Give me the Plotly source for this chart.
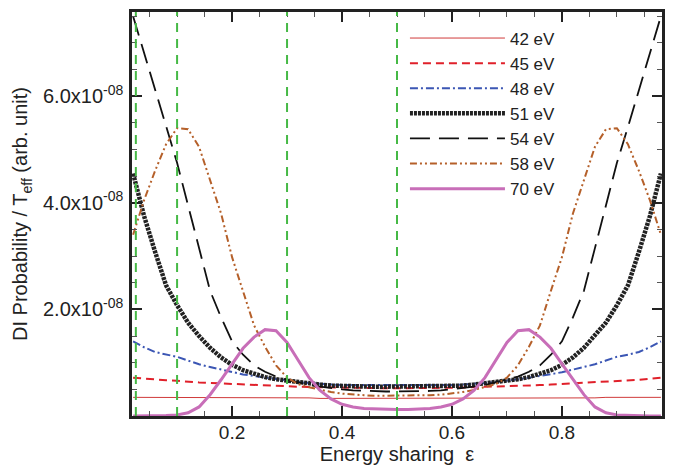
import plotly.graph_objects as go

# energy sharing grid
eps = [0.02, 0.04, 0.06, 0.08, 0.10, 0.12, 0.14, 0.16, 0.18, 0.20, 0.22, 0.24, 0.26,
       0.28, 0.30, 0.32, 0.34, 0.36, 0.38, 0.40, 0.42, 0.44, 0.46, 0.48, 0.50,
       0.52, 0.54, 0.56, 0.58, 0.60, 0.62, 0.64, 0.66, 0.68, 0.70, 0.72, 0.74,
       0.76, 0.78, 0.80, 0.82, 0.84, 0.86, 0.88, 0.90, 0.92, 0.94, 0.96, 0.98]

# DI probability / T_eff, in units of 1e-8
p42 = [0.35, 0.35, 0.35, 0.35, 0.35, 0.35, 0.35, 0.34, 0.34, 0.34, 0.34, 0.34, 0.34,
       0.34, 0.34, 0.34, 0.34, 0.33, 0.33, 0.33, 0.33, 0.33, 0.33, 0.33, 0.33,
       0.33, 0.33, 0.33, 0.33, 0.33, 0.33, 0.33, 0.33, 0.34, 0.34, 0.34, 0.34,
       0.34, 0.34, 0.34, 0.34, 0.34, 0.34, 0.35, 0.35, 0.35, 0.35, 0.35, 0.35]
p45 = [0.72, 0.70, 0.68, 0.67, 0.66, 0.64, 0.63, 0.62, 0.61, 0.60, 0.59, 0.58, 0.57,
       0.565, 0.56, 0.55, 0.545, 0.54, 0.535, 0.53, 0.53, 0.525, 0.525, 0.52, 0.52,
       0.52, 0.525, 0.525, 0.53, 0.53, 0.535, 0.54, 0.545, 0.55, 0.56, 0.565, 0.57,
       0.58, 0.59, 0.60, 0.61, 0.62, 0.63, 0.64, 0.66, 0.67, 0.68, 0.70, 0.72]
p48 = [1.40, 1.29, 1.20, 1.15, 1.11, 1.04, 0.97, 0.92, 0.87, 0.82, 0.78, 0.75, 0.72,
       0.69, 0.66, 0.64, 0.62, 0.60, 0.59, 0.58, 0.58, 0.575, 0.57, 0.57, 0.57,
       0.57, 0.57, 0.575, 0.58, 0.58, 0.59, 0.60, 0.62, 0.64, 0.66, 0.69, 0.72,
       0.75, 0.78, 0.82, 0.87, 0.92, 0.97, 1.04, 1.11, 1.15, 1.20, 1.29, 1.40]
p51 = [4.55, 3.75, 3.08, 2.45, 2.08, 1.75, 1.50, 1.28, 1.10, 0.96, 0.86, 0.79, 0.73,
       0.69, 0.66, 0.63, 0.61, 0.59, 0.57, 0.56, 0.56, 0.555, 0.55, 0.55, 0.55,
       0.55, 0.55, 0.555, 0.56, 0.56, 0.57, 0.59, 0.61, 0.63, 0.66, 0.69, 0.73,
       0.79, 0.86, 0.96, 1.10, 1.28, 1.50, 1.75, 2.08, 2.45, 3.08, 3.75, 4.55]
p54 = [7.50, 6.80, 6.10, 5.42, 4.75, 3.95, 3.15, 2.35, 1.85, 1.40, 1.15, 0.95, 0.83,
       0.74, 0.68, 0.63, 0.58, 0.55, 0.52, 0.50, 0.48, 0.47, 0.46, 0.46, 0.46,
       0.46, 0.46, 0.47, 0.48, 0.50, 0.52, 0.55, 0.58, 0.63, 0.68, 0.74, 0.83,
       0.95, 1.15, 1.40, 1.85, 2.35, 3.15, 3.95, 4.75, 5.42, 6.10, 6.80, 7.50]
p58 = [3.40, 4.05, 4.60, 5.10, 5.40, 5.38, 5.05, 4.42, 3.80, 2.98, 2.35, 1.70, 1.30,
       0.95, 0.72, 0.60, 0.54, 0.49, 0.45, 0.42, 0.40, 0.39, 0.38, 0.38, 0.38,
       0.38, 0.38, 0.39, 0.40, 0.42, 0.45, 0.49, 0.54, 0.60, 0.72, 0.95, 1.30,
       1.70, 2.35, 2.98, 3.80, 4.42, 5.05, 5.38, 5.40, 5.10, 4.60, 4.05, 3.40]
p70 = [0.00, 0.00, 0.00, 0.01, 0.02, 0.06, 0.17, 0.40, 0.68, 0.98, 1.27, 1.48, 1.62,
       1.60, 1.38, 1.05, 0.72, 0.48, 0.32, 0.22, 0.17, 0.14, 0.13, 0.12, 0.12,
       0.12, 0.13, 0.14, 0.17, 0.22, 0.32, 0.48, 0.72, 1.05, 1.38, 1.60, 1.62,
       1.48, 1.27, 0.98, 0.68, 0.40, 0.17, 0.06, 0.02, 0.01, 0.00, 0.00, 0.00]

# vertical marker positions
marker_eps = [0.025, 0.1, 0.3, 0.5]

y_ticks = [2, 4, 6]
y_ticktext = ["2.0x10<sup>-08</sup>", "4.0x10<sup>-08</sup>", "6.0x10<sup>-08</sup>"]

series = [
    ("42 eV", p42, dict(color="#d03a3a", width=1)),
    ("45 eV", p45, dict(color="#e0202a", width=2, dash="8px,5px")),
    ("48 eV", p48, dict(color="#3b56b4", width=2, dash="8px,3px,2px,3px")),
    ("51 eV", p51, dict(color="#222222", width=4.5, dash="3px,1px")),
    ("54 eV", p54, dict(color="#111111", width=1.8, dash="20px,9px")),
    ("58 eV", p58, dict(color="#b5602a", width=2, dash="7px,3px,2px,3px,2px,3px")),
    ("70 eV", p70, dict(color="#c86eb8", width=3)),
]

fig = go.Figure()
for name, vals, line in series:
    fig.add_trace(go.Scatter(x=eps, y=vals, mode="lines", name=name, line=line))

for e in marker_eps:
    fig.add_vline(x=e, line=dict(color="#46b946", width=2, dash="9px,7px"), layer="above")

# page body adds an 8px offset, so the figure is 8px smaller on each side
fig.update_layout(
    width=666, height=464,
    margin=dict(l=124, r=12, t=1, b=56),
    plot_bgcolor="white", paper_bgcolor="white",
    font=dict(family="Liberation Sans, Arial, sans-serif", size=20, color="#222"),
    legend=dict(x=0.515, y=0.979, xanchor="left", yanchor="top",
                bgcolor="rgba(0,0,0,0)", itemwidth=95, tracegroupgap=0,
                font=dict(size=17)),
)
fig.update_xaxes(
    range=[0.018, 0.982], showgrid=False, zeroline=False,
    showline=True, linecolor="#222", linewidth=2.5, mirror="ticks",
    ticks="inside", ticklen=10, tickwidth=2, tickcolor="#222",
    tick0=0, dtick=0.2, tickformat=".1f", ticklabelstandoff=-3,
    tickfont=dict(size=19),
    minor=dict(ticks="inside", ticklen=5, tickwidth=1, tickcolor="#555", dtick=0.05, tick0=0),
    title=dict(text="Energy sharing  ε", font=dict(size=20), standoff=4),
)
fig.update_yaxes(
    range=[0, 7.58], showgrid=False, zeroline=False,
    showline=True, linecolor="#222", linewidth=2.5, mirror="ticks",
    ticks="inside", ticklen=10, tickwidth=2, tickcolor="#222",
    tickvals=y_ticks, ticktext=y_ticktext, ticklabelstandoff=2,
    minor=dict(ticks="inside", ticklen=5, tickwidth=1, tickcolor="#555", dtick=0.5, tick0=0),
    title=dict(text="DI Probability / T<sub>eff</sub> (arb. unit)", font=dict(size=20), standoff=10),
)

fig.write_html("out.html")
